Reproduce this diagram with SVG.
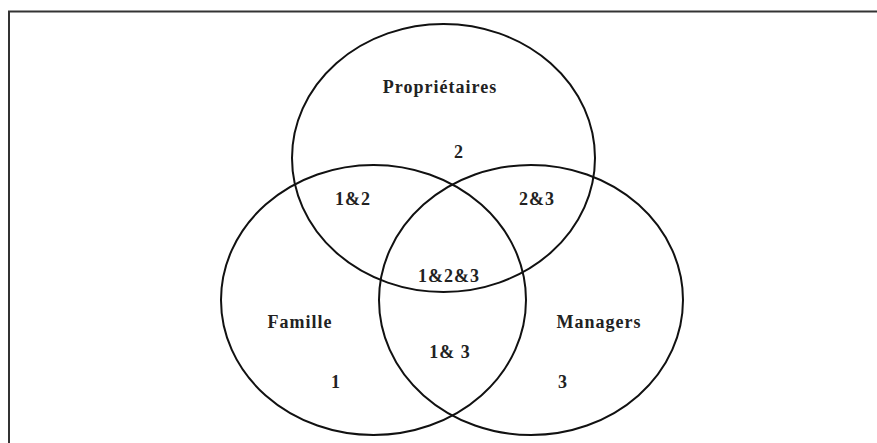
<svg xmlns="http://www.w3.org/2000/svg" width="877" height="443" viewBox="0 0 877 443">
  <style>
    .set { fill: none; stroke: #111; stroke-width: 2; }
    .lbl { font-family: "Liberation Serif", "Times New Roman", serif; font-weight: bold; font-size: 18px; fill: #222; text-anchor: middle; letter-spacing: 1px; }
  </style>
  <rect width="877" height="443" fill="#fff"/>
  <!-- frame: only the top and left edges fall inside the view -->
  <path d="M9,443 V11.5 H877" fill="none" stroke="#333" stroke-width="2"/>

  <g id="proprietaires">
    <ellipse class="set" cx="443.5" cy="158" rx="151.5" ry="134"/>
    <text class="lbl" x="440" y="93" font-size="19">Propriétaires</text>
    <text class="lbl" x="459" y="158">2</text>
  </g>
  <g id="famille">
    <ellipse class="set" cx="373.5" cy="300" rx="152.5" ry="135"/>
    <text class="lbl" x="300" y="328">Famille</text>
    <text class="lbl" x="336" y="388">1</text>
  </g>
  <g id="managers">
    <ellipse class="set" cx="531" cy="300" rx="152" ry="135"/>
    <text class="lbl" x="599" y="328">Managers</text>
    <text class="lbl" x="563" y="388">3</text>
  </g>
  <g id="overlaps">
    <text class="lbl" x="353" y="205">1&amp;2</text>
    <text class="lbl" x="537" y="205">2&amp;3</text>
    <text class="lbl" x="449" y="282">1&amp;2&amp;3</text>
    <text class="lbl" x="450" y="358">1&amp; 3</text>
  </g>
</svg>
